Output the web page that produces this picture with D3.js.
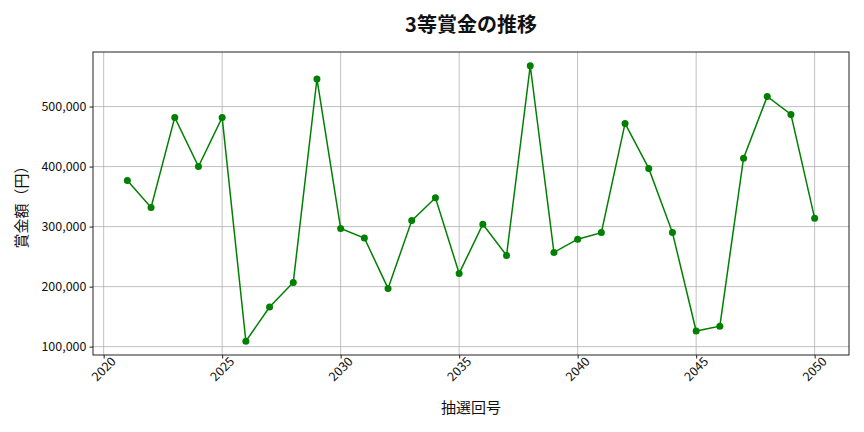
<!DOCTYPE html>
<html>
<head>
<meta charset="utf-8">
<script src="https://cdn.jsdelivr.net/npm/d3@7"></script>
<style>
  body { margin: 0; background: #fff; }
  text { font-family: "Noto Sans CJK JP", "Noto Sans", sans-serif; fill: #111; }
</style>
</head>
<body>
<svg id="chart" width="864" height="432"></svg>
<script>
// draw numbers and 3rd prize amounts (yen)
const draws = [2021, 2022, 2023, 2024, 2025, 2026, 2027, 2028, 2029, 2030,
  2031, 2032, 2033, 2034, 2035, 2036, 2037, 2038, 2039, 2040,
  2041, 2042, 2043, 2044, 2045, 2046, 2047, 2048, 2049, 2050];
const prizes = [377000, 332000, 482000, 400000, 482000, 109000, 166000, 207000, 546000, 297000,
  281000, 197000, 310000, 348000, 222000, 304000, 252000, 568000, 257000, 279000,
  290000, 472000, 397000, 290000, 126000, 134000, 414000, 517000, 487000, 314000];
const xTicks = [2020, 2025, 2030, 2035, 2040, 2045, 2050];
const yTicks = [100000, 200000, 300000, 400000, 500000];

const data = draws.map((d, i) => ({ draw: d, prize: prizes[i] }));

const svg = d3.select('#chart');
const margin = { top: 52, right: 15, bottom: 77, left: 93 };
const width = 864 - margin.left - margin.right;
const height = 432 - margin.top - margin.bottom;

// 5% padding like matplotlib
const xExt = d3.extent(draws), xPad = (xExt[1] - xExt[0]) * 0.05;
const yExt = d3.extent(prizes), yPad = (yExt[1] - yExt[0]) * 0.05;

const x = d3.scaleLinear().domain([xExt[0] - xPad, xExt[1] + xPad]).range([0, width]);
const y = d3.scaleLinear().domain([yExt[0] - yPad, yExt[1] + yPad]).range([height, 0]);

const g = svg.append('g').attr('transform', `translate(${margin.left},${margin.top})`);

// grid
g.append('g').selectAll('line').data(xTicks).join('line')
  .attr('x1', d => x(d)).attr('x2', d => x(d))
  .attr('y1', 0).attr('y2', height)
  .attr('stroke', '#b0b0b0').attr('stroke-width', 0.8);
g.append('g').selectAll('line').data(yTicks).join('line')
  .attr('x1', 0).attr('x2', width)
  .attr('y1', d => y(d)).attr('y2', d => y(d))
  .attr('stroke', '#b0b0b0').attr('stroke-width', 0.8);

// axes
const xAxis = g.append('g')
  .attr('transform', `translate(0,${height})`)
  .call(d3.axisBottom(x).tickValues(xTicks).tickFormat(d3.format('d')).tickSize(3.5).tickPadding(3));
xAxis.select('.domain').remove();
xAxis.selectAll('text')
  .style('font-size', '12.5px')
  .attr('text-anchor', 'end')
  .attr('dx', '0.3em')
  .attr('dy', '0.6em')
  .attr('transform', 'rotate(-45)');

const yAxis = g.append('g')
  .call(d3.axisLeft(y).tickValues(yTicks).tickFormat(d3.format(',')).tickSize(3.5).tickPadding(3));
yAxis.select('.domain').remove();
yAxis.selectAll('text').style('font-size', '12.5px');
g.selectAll('.tick line').attr('stroke', '#222');

// frame
g.append('rect').attr('width', width).attr('height', height)
  .attr('fill', 'none').attr('stroke', '#222').attr('stroke-width', 1);

// line + markers
const line = d3.line().x(d => x(d.draw)).y(d => y(d.prize));
g.append('path').datum(data)
  .attr('d', line)
  .attr('fill', 'none')
  .attr('stroke', 'green')
  .attr('stroke-width', 1.5);
g.selectAll('circle.pt').data(data).join('circle')
  .attr('class', 'pt')
  .attr('cx', d => x(d.draw)).attr('cy', d => y(d.prize))
  .attr('r', 3.5).attr('fill', 'green');

// titles
svg.append('text')
  .attr('x', margin.left + width / 2).attr('y', 32)
  .attr('text-anchor', 'middle')
  .style('font-size', '20px').style('font-weight', 'bold')
  .text('3等賞金の推移');
svg.append('text')
  .attr('x', margin.left + width / 2).attr('y', 413)
  .attr('text-anchor', 'middle')
  .style('font-size', '15px')
  .text('抽選回号');
svg.append('text')
  .attr('transform', `translate(27,${margin.top + height / 2}) rotate(-90)`)
  .attr('text-anchor', 'middle')
  .style('font-size', '15px')
  .text('賞金額（円）');
</script>
</body>
</html>
